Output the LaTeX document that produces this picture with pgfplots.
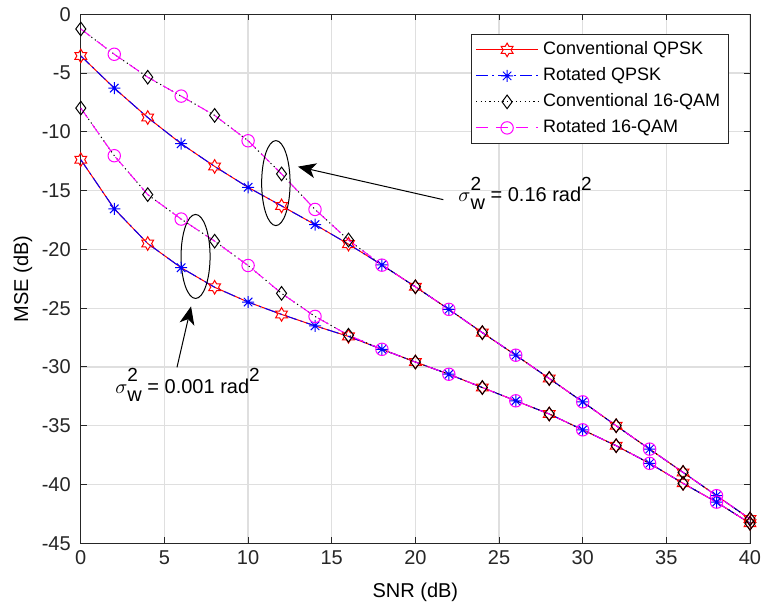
\documentclass[border=0pt]{standalone}
\usepackage{amsmath}
\usepackage{fontspec}
\setmainfont{Liberation Sans}
\usepackage{pgfplots}
\usepackage{pgfplotstable}
\pgfplotsset{compat=1.18}
\usetikzlibrary{arrows.meta}
\definecolor{axgray}{RGB}{38,38,38}
\definecolor{gridgray}{RGB}{223,223,223}
\definecolor{mag}{RGB}{255,0,255}

\pgfdeclareplotmark{hexagram}{%
 \pgfpathmoveto{\pgfpointpolar{90}{\pgfplotmarksize}}%
 \pgfpathlineto{\pgfpointpolar{120}{0.577\pgfplotmarksize}}%
 \pgfpathlineto{\pgfpointpolar{150}{\pgfplotmarksize}}%
 \pgfpathlineto{\pgfpointpolar{180}{0.577\pgfplotmarksize}}%
 \pgfpathlineto{\pgfpointpolar{210}{\pgfplotmarksize}}%
 \pgfpathlineto{\pgfpointpolar{240}{0.577\pgfplotmarksize}}%
 \pgfpathlineto{\pgfpointpolar{270}{\pgfplotmarksize}}%
 \pgfpathlineto{\pgfpointpolar{300}{0.577\pgfplotmarksize}}%
 \pgfpathlineto{\pgfpointpolar{330}{\pgfplotmarksize}}%
 \pgfpathlineto{\pgfpointpolar{0}{0.577\pgfplotmarksize}}%
 \pgfpathlineto{\pgfpointpolar{30}{\pgfplotmarksize}}%
 \pgfpathlineto{\pgfpointpolar{60}{0.577\pgfplotmarksize}}%
 \pgfpathclose\pgfusepathqstroke}
\pgfdeclareplotmark{matast}{%
 \pgfpathmoveto{\pgfqpoint{0pt}{\pgfplotmarksize}}\pgfpathlineto{\pgfqpoint{0pt}{-\pgfplotmarksize}}%
 \pgfpathmoveto{\pgfqpoint{\pgfplotmarksize}{0pt}}\pgfpathlineto{\pgfqpoint{-\pgfplotmarksize}{0pt}}%
 \pgfpathmoveto{\pgfpointpolar{45}{\pgfplotmarksize}}\pgfpathlineto{\pgfpointpolar{225}{\pgfplotmarksize}}%
 \pgfpathmoveto{\pgfpointpolar{135}{\pgfplotmarksize}}\pgfpathlineto{\pgfpointpolar{315}{\pgfplotmarksize}}%
 \pgfusepathqstroke}
\pgfdeclareplotmark{mdiamond}{%
 \pgfpathmoveto{\pgfqpoint{0pt}{\pgfplotmarksize}}%
 \pgfpathlineto{\pgfqpoint{0.74\pgfplotmarksize}{0pt}}%
 \pgfpathlineto{\pgfqpoint{0pt}{-\pgfplotmarksize}}%
 \pgfpathlineto{\pgfqpoint{-0.74\pgfplotmarksize}{0pt}}%
 \pgfpathclose\pgfusepathqstroke}

\newcommand{\sigw}{$\sigma$\rlap{\raisebox{5.6pt}{\fontsize{9.5}{10}\selectfont 2}}\raisebox{-4pt}{w}}
\newcommand{\sqr}{\raisebox{5.6pt}{\fontsize{9.5}{10}\selectfont 2}}

% x  QPSK(0.16)  16QAM(0.16)  QPSK(0.001)  16QAM(0.001)
\pgfplotstableread{
x   qu      mu      ql      ml
0   -3.54   -1.25   -12.37  -7.98
2   -6.28   -3.40   -16.55  -12.03
4   -8.78   -5.35   -19.50  -15.34
6   -11.01  -6.96   -21.56  -17.42
8   -12.94  -8.60   -23.22  -19.30
10  -14.72  -10.76  -24.48  -21.37
12  -16.30  -13.58  -25.53  -23.74
14  -17.89  -16.60  -26.50  -25.70
16  -19.55  -19.20  -27.40  -27.30
18  -21.32  -21.34  -28.50  -28.50
20  -23.18  -23.18  -29.58  -29.58
22  -25.10  -25.10  -30.62  -30.62
24  -27.08  -27.08  -31.75  -31.75
26  -29.00  -29.00  -32.88  -32.88
28  -30.98  -30.98  -34.00  -34.00
30  -32.97  -32.97  -35.35  -35.35
32  -35.00  -35.00  -36.70  -36.70
34  -36.99  -36.99  -38.20  -38.20
36  -38.97  -38.97  -39.90  -39.90
38  -40.95  -40.95  -41.50  -41.50
40  -42.93  -42.93  -43.30  -43.30
}\mydata

\begin{document}
\begin{tikzpicture}
\begin{axis}[
  name=ax,
  scale only axis,
  width=334.6pt, height=264.5pt,
  xmin=0, xmax=40, ymin=-45, ymax=0,
  xtick={0,5,...,40}, ytick={-45,-40,...,0},
  clip=false,
  axis line style={color=axgray, line width=0.5pt},
  tick style={color=axgray, line width=0.5pt},
  major tick length=3pt,
  tick align=inside,
  xtick pos=both, ytick pos=both,
  grid=major,
  major grid style={color=gridgray, line width=0.6pt},
  /pgf/number format/assume math mode=true,
  ticklabel style={font=\fontsize{10}{12}\selectfont, text=axgray},
  yticklabel style={xshift=-1.5pt},
  label style={font=\fontsize{11}{13}\selectfont, text=axgray},
  xlabel={SNR (dB)}, ylabel={MSE (dB)},
  every axis x label/.style={at={(axis description cs:0.5,0)}, anchor=center, yshift=-24.5pt},
  every axis y label/.style={at={(axis description cs:0,0.5)}, anchor=center, rotate=90, yshift=28.9pt},
  legend style={at={(1,1)}, anchor=north east, xshift=-10.5pt, yshift=-9.85pt,
    font=\fontsize{9}{10}\selectfont, draw=axgray, line width=0.5pt,
    inner xsep=2pt, inner ysep=1.2pt, row sep=0pt,
    nodes={text height=6.6pt, text depth=1.9pt, inner ysep=2.25pt, inner xsep=2.2pt}},
  legend cell align=left,
  legend image code/.code={\draw[mark repeat=2,mark phase=2] plot coordinates {(0pt,0pt) (15.5pt,0pt) (31pt,0pt)};},
  mark options={solid, line width=0.5pt},
]
\addplot[color=red, solid, line width=0.5pt, mark=hexagram, mark size=3.4pt, mark repeat=2, mark phase=1] table[x=x,y=qu]{\mydata};
\addlegendentry{Conventional QPSK}
\addplot[color=blue, dash pattern=on 6pt off 2pt on 1pt off 2pt, line width=0.5pt, mark=matast, mark size=3pt, mark repeat=2, mark phase=2] table[x=x,y=qu]{\mydata};
\addlegendentry{Rotated QPSK}
\addplot[color=black, dash pattern=on 0.6pt off 1.6pt, line width=0.5pt, mark=mdiamond, mark size=3.4pt, mark repeat=2, mark phase=1] table[x=x,y=mu]{\mydata};
\addlegendentry{Conventional 16-QAM}
\addplot[color=mag, dash pattern=on 6pt off 4pt, line width=0.5pt, mark=o, mark size=3.1pt, mark repeat=2, mark phase=2] table[x=x,y=mu]{\mydata};
\addlegendentry{Rotated 16-QAM}

\addplot[forget plot, color=red, solid, line width=0.5pt, mark=hexagram, mark size=3.4pt, mark repeat=2, mark phase=1] table[x=x,y=ql]{\mydata};
\addplot[forget plot, color=blue, dash pattern=on 6pt off 2pt on 1pt off 2pt, line width=0.5pt, mark=matast, mark size=3pt, mark repeat=2, mark phase=2] table[x=x,y=ql]{\mydata};
\addplot[forget plot, color=black, dash pattern=on 0.6pt off 1.6pt, line width=0.5pt, mark=mdiamond, mark size=3.4pt, mark repeat=2, mark phase=1] table[x=x,y=ml]{\mydata};
\addplot[forget plot, color=mag, dash pattern=on 6pt off 4pt, line width=0.5pt, mark=o, mark size=3.1pt, mark repeat=2, mark phase=2] table[x=x,y=ml]{\mydata};

\draw[black, line width=0.5pt] (axis cs:11.66,-14.36) ellipse [x radius=7.1pt, y radius=21.25pt];
\draw[black, line width=0.5pt] (axis cs:6.86,-20.6) ellipse [x radius=7.25pt, y radius=21pt];
\draw[black, line width=0.5pt, -{Stealth[length=9pt,width=7.5pt,inset=2.5pt]}] (axis cs:21.67,-15.77) -- (axis cs:12.98,-12.96);
\draw[black, line width=0.5pt, -{Stealth[length=9pt,width=7.5pt,inset=2.5pt]}] (axis cs:5.75,-30.03) -- (axis cs:6.59,-24.85);
\node[anchor=base west, inner sep=0pt, font=\fontsize{10}{12}\selectfont, text=black] at (axis cs:22.55,-15.93) {\sigw{} = 0.16 rad\sqr};
\node[anchor=base west, inner sep=0pt, font=\fontsize{10}{12}\selectfont, text=black] at (axis cs:2.04,-32.23) {\sigw{} = 0.001 rad\sqr};
\end{axis}
\pgfresetboundingbox
\path[use as bounding box] ([shift={(-40.4pt,-34.35pt)}]ax.south west) rectangle ([shift={(7pt,7.15pt)}]ax.north east);
\end{tikzpicture}
\end{document}
